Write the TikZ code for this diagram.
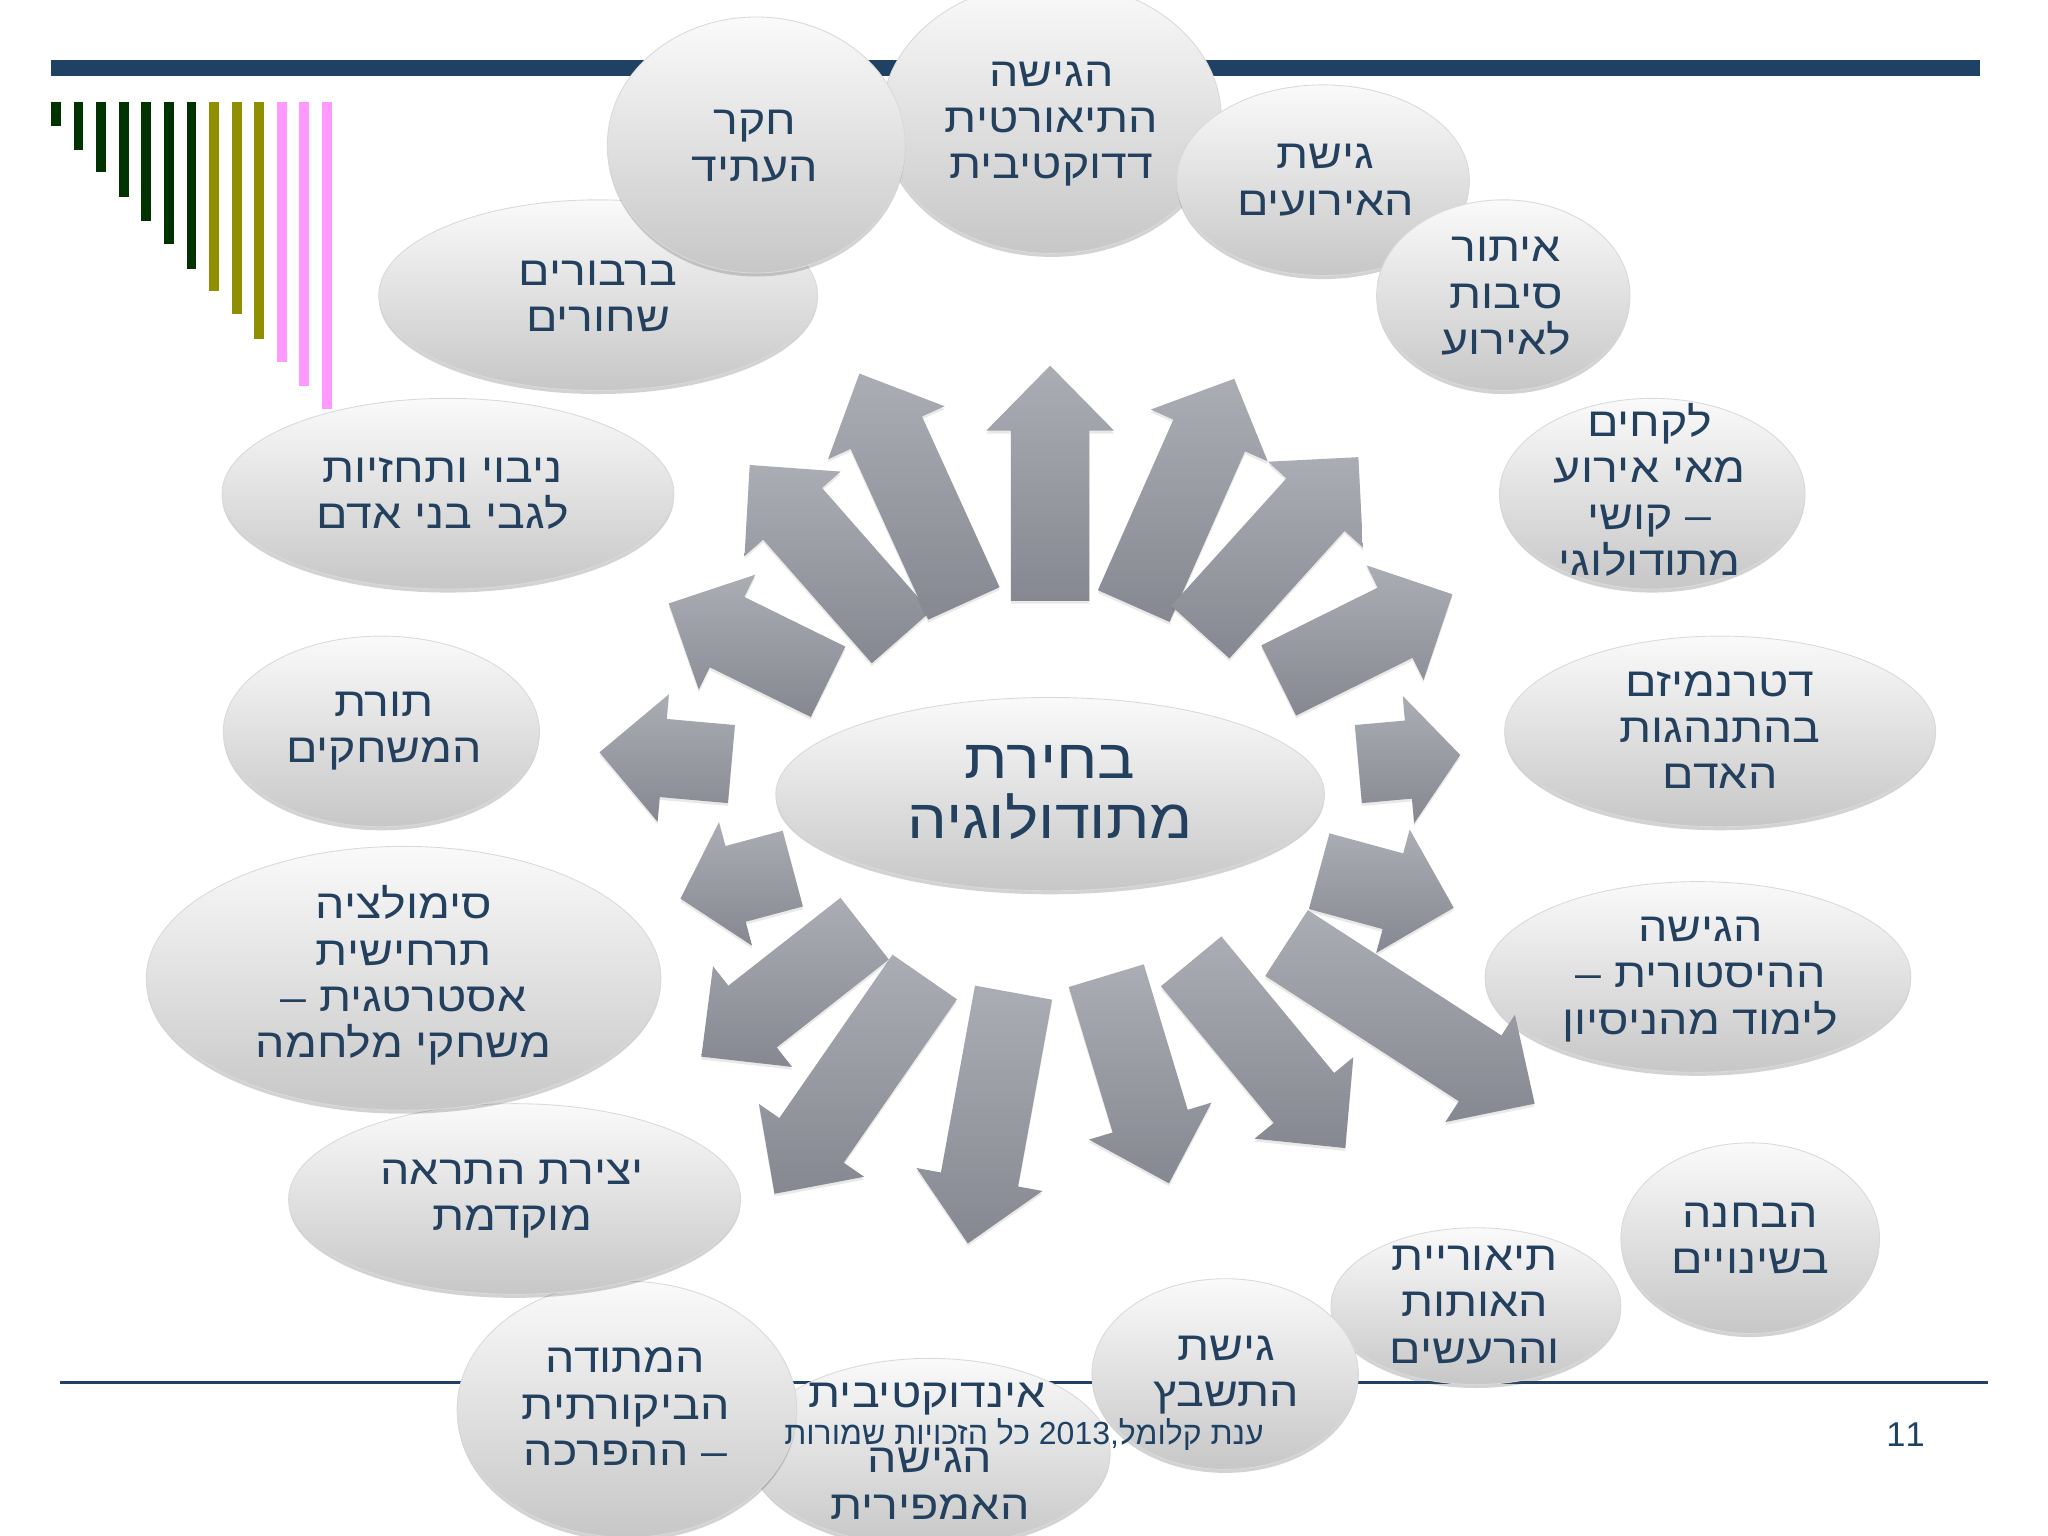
\documentclass[tikz,border=0pt]{standalone}
\usepackage{fontspec}
\setmainfont[Script=Hebrew]{Liberation Sans}
\newfontfamily\widefont[Script=Hebrew,FakeStretch=1.14]{Liberation Sans}
\TeXXeTstate=1
\usetikzlibrary{calc,shapes.geometric,shadows}
\definecolor{navy}{HTML}{1F4264}
\definecolor{inkblue}{HTML}{24405F}
\definecolor{darkgreen}{HTML}{003300}
\definecolor{olive}{HTML}{8F8F00}
\definecolor{pinkbar}{HTML}{FF99FF}
\definecolor{arrowtop}{RGB}{171,173,181}
\definecolor{arrowbottom}{RGB}{133,136,144}
\newcommand{\heb}[1]{\beginR #1\endR}
\tikzset{
  bubble/.style 2 args={ellipse, minimum width=#1*0.026122cm, minimum height=#2*0.026122cm,
    inner sep=0pt, outer sep=0pt, draw=black!15, line width=.25pt,
    top color=white!98!black, middle color=black!9, bottom color=black!22,
    drop shadow={shadow xshift=0pt, shadow yshift=-1pt, opacity=.25, fill=black!70}},
  bubbletext/.style={text=inkblue, align=center, yshift=-1.1pt, font=\widefont\fontsize{11.6}{13.2}\selectfont},
  arrowbody/.style={top color=arrowtop, bottom color=arrowbottom},
  bigtext/.style={text=inkblue, align=center, yshift=-1.1pt, font=\widefont\fontsize{15.7}{17.2}\selectfont},
  footertext/.style={text=navy, yshift=-.6pt, font=\fontsize{9.1}{10}\selectfont},
}
\begin{document}
\begin{tikzpicture}[x=.013061cm,y=-.013061cm]
\useasboundingbox (0,0) rectangle (1568,1176);
% header and footer rules
\fill[navy] (39,46) rectangle (1516,58);
\fill[navy] (46,1057) rectangle (1522,1059.5);
\foreach \i/\h/\c in {0/126/darkgreen,1/150/darkgreen,2/172/darkgreen,3/197/darkgreen,4/221/darkgreen,5/244/darkgreen,6/269/darkgreen,7/291/olive,8/314/olive,9/339/olive,10/362/pinkbar,11/386/pinkbar,12/409/pinkbar}
  \fill[\c] ({39+17.3*\i},78) rectangle ({46.5+17.3*\i},{\h/1.306});
% ring of ellipses
\node[bubble={130}{104}] (theory) at (805,90){};
\node[bubbletext] (theorytxt) at (805,92){\heb{הגישה}\\\heb{התיאורטית}\\\heb{דדוקטיבית}};
\node[bubble={112}{73}] (events) at (1013,138){};
\node[bubbletext] (eventstxt) at (1015,135){\heb{גישת}\\\heb{האירועים}};
\node[bubble={97}{73}] (causes) at (1151,226){};
\node[bubbletext] (causestxt) at (1153,224){\heb{איתור}\\\heb{סיבות}\\\heb{לאירוע}};
\node[bubble={117}{73}] (lessons) at (1265,378){};
\node[bubbletext] (lessonstxt) at (1263,372){\heb{לקחים}\\\heb{מאי אירוע}\\\heb{– קושי}\\\heb{מתודולוגי}};
\node[bubble={165}{73}] (determ) at (1317,560){};
\node[bubbletext] (determtxt) at (1317,556){\heb{דטרנמיזם}\\\heb{בהתנהגות}\\\heb{האדם}};
\node[bubble={163}{73}] (history) at (1300,748){};
\node[bubbletext] (historytxt) at (1302,747){\heb{הגישה}\\\heb{ההיסטורית –}\\\heb{לימוד מהניסיון}};
\node[bubble={99}{73}] (changes) at (1340,948){};
\node[bubbletext] (changestxt) at (1340,945){\heb{הבחנה}\\\heb{בשינויים}};
\node[bubble={111}{60}] (signs) at (1130,1000){};
\node[bubbletext] (signstxt) at (1129,996){\heb{תיאוריית}\\\heb{האותות}\\\heb{והרעשים}};
\node[bubble={138}{72}] (empiric) at (712,1112){};
\node[bubbletext] (empirictxt) at (710,1068){\heb{אינדוקטיבית}};
\node[bubbletext] (empirictwo) at (712,1133){\heb{הגישה}\\\heb{האמפירית}};
\node[bubble={102}{73}] (puzzle) at (938,1052){};
\node[bubbletext] (puzzletxt) at (939,1050){\heb{גישת}\\\heb{התשבץ}};
\node[bubble={130}{98}] (critic) at (480,1079){};
\node[bubbletext] (critictxt) at (479,1074){\heb{המתודה}\\\heb{הביקורתית}\\\heb{– ההפרכה}};
\node[bubble={173}{73}] (warning) at (394,918){};
\node[bubbletext] (warningtxt) at (392,915){\heb{יצירת התראה}\\\heb{מוקדמת}};
\node[bubble={197}{101}] (scenario) at (309,749){};
\node[bubbletext] (scenariotxt) at (309,744){\heb{סימולציה}\\\heb{תרחישית}\\\heb{אסטרטגית –}\\\heb{משחקי מלחמה}};
\node[bubble={121}{73}] (games) at (292,560){};
\node[bubbletext] (gamestxt) at (294,557){\heb{תורת}\\\heb{המשחקים}};
\node[bubble={173}{73}] (forecast) at (343,378){};
\node[bubbletext] (forecasttxt) at (339,375){\heb{ניבוי ותחזיות}\\\heb{לגבי בני אדם}};
\node[bubble={168}{73}] (swans) at (458,226){};
\node[bubbletext] (swanstxt) at (458,224){\heb{ברבורים}\\\heb{שחורים}};
\node[bubble={114}{98}] (future) at (579,111){};
\node[bubbletext] (futuretxt) at (578,109){\heb{חקר}\\\heb{העתיד}};
% radial arrows
\foreach \tx/\ty/\px/\py/\hl in {804/460/804/280/.65,868/464/945/290/.62,919/484/1040/350/.64,979/521/1112/455/.64,1040/585/1118/578/.52,1010/667/1113/695/.63,985/722/1175/845/.65,912/736/1030/879/.65,847/747/895/906/.65,776/760/741/952/.65,708/748/593/914/.65,662/711/537/809/.65,607/665/521/688/.57,560/585/459/576/.64,634/522/512/462/.65,690/488/574/356/.65,738/462/658/286/.65}{
  \coordinate (tl) at (\tx,\ty);
  \coordinate (tp) at (\px,\py);
  \coordinate (hb) at ($(tp)!\hl cm!(tl)$);
  \path[arrowbody, drop shadow={shadow xshift=0pt, shadow yshift=-.8pt, opacity=.12, fill=black!70}]
    ($(tl)!.392cm!90:(tp)$) -- ($(hb)!.392cm!-90:(tl)$) -- ($(hb)!.64cm!-90:(tl)$) -- (tp)
    -- ($(hb)!.64cm!90:(tl)$) -- ($(hb)!.392cm!90:(tl)$) -- ($(tl)!.392cm!-90:(tp)$) -- cycle;
}
% centre
\node[bubble={210}{74}] (method) at (804,608){};
\node[bigtext] (methodtxt) at (804,604){\heb{בחירת}\\\heb{מתודולוגיה}};
% footer
\node[footertext] (footer) at (784,1097){\heb{ענת קלומל,\beginL 2013\endL{} כל הזכויות שמורות}};
\node[footertext, font=\fontsize{9.8}{11}\selectfont] (pagenum) at (1459,1097){11};
\end{tikzpicture}
\end{document}
